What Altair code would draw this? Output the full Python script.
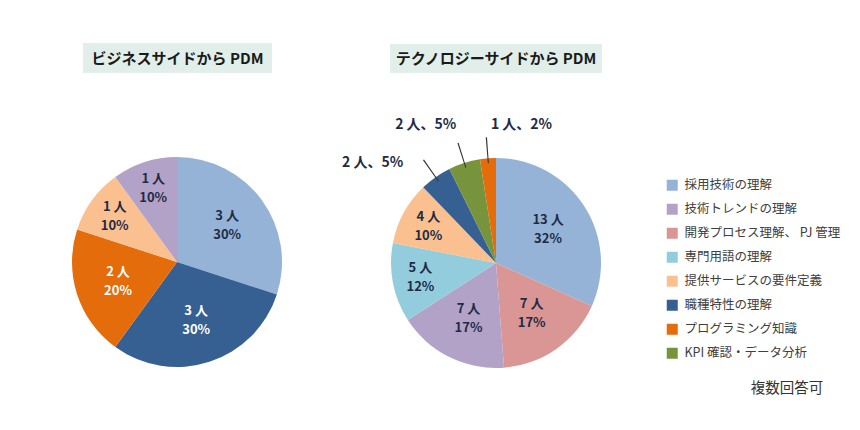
import altair as alt
import pandas as pd

# ---- data ----
categories = [
    "採用技術の理解",
    "技術トレンドの理解",
    "開発プロセス理解、 PJ 管理",
    "専門用語の理解",
    "提供サービスの要件定義",
    "職種特性の理解",
    "プログラミング知識",
    "KPI 確認・データ分析",
]
colors = ["#95b3d7", "#b3a2c7", "#d99694", "#93cddd", "#fac090", "#376092", "#e46c0a", "#77933c"]

left_order = ["採用技術の理解", "職種特性の理解", "プログラミング知識", "提供サービスの要件定義", "技術トレンドの理解"]
left_counts = [3, 3, 2, 1, 1]

right_order = [
    "採用技術の理解",
    "開発プロセス理解、 PJ 管理",
    "技術トレンドの理解",
    "専門用語の理解",
    "提供サービスの要件定義",
    "職種特性の理解",
    "KPI 確認・データ分析",
    "プログラミング知識",
]
right_counts = [13, 7, 7, 5, 4, 2, 2, 1]

titles = ["ビジネスサイドから PDM", "テクノロジーサイドから PDM"]
note = "複数回答可"
dark_slices = ["職種特性の理解", "プログラミング知識"]

FONT = "Noto Sans CJK JP"


def frame(order, counts):
    return pd.DataFrame({"cat": order, "n": counts, "ord": list(range(len(order)))})


color_enc = alt.Color(
    "cat:N",
    scale=alt.Scale(domain=categories, range=colors),
    legend=alt.Legend(title=None),
)
label_color = alt.condition(
    alt.FieldOneOfPredicate(field="cat", oneOf=dark_slices),
    alt.value("white"),
    alt.value("#1e2b45"),
)


def pie(df, cx, cy, outside=None):
    base = (
        alt.Chart(df)
        .transform_joinaggregate(total="sum(n)")
        .transform_window(cum="sum(n)", sort=[alt.SortField("ord")], frame=[None, 0])
        .transform_calculate(
            a0="2*PI*(datum.cum-datum.n)/datum.total",
            a1="2*PI*datum.cum/datum.total",
            mid="2*PI*(datum.cum-datum.n/2)/datum.total",
            pct="round(100*datum.n/datum.total)",
        )
        .transform_calculate(
            line1="datum.n + ' 人'",
            line2="datum.pct + '%'",
            outer="datum.n + ' 人、' + datum.pct + '%'",
        )
    )
    pos = dict(x=alt.value(cx), y=alt.value(cy))
    arcs = base.mark_arc(radius=105).encode(
        theta=alt.Theta("a0:Q", scale=None),
        theta2=alt.Theta2("a1:Q"),
        color=color_enc,
        **pos,
    )
    txt = dict(font=FONT, fontSize=13, fontWeight="bold", align="center", baseline="middle")
    layers = [arcs]
    for flt, rad in (("datum.pct >= 15", 62), ("datum.pct >= 8 && datum.pct < 15", 77)):
        for field, off in (("line1", -9.5), ("line2", 9.5)):
            layers.append(
                base.transform_filter(flt)
                .mark_text(radius=rad, dy=off, **txt)
                .encode(theta=alt.Theta("mid:Q", scale=None), text=f"{field}:N",
                        color=label_color, **pos)
            )
    if outside:
        leaders = (
            base.transform_filter("datum.pct < 8")
            .transform_calculate(l0="datum.mid-0.005", l1="datum.mid+0.005")
            .mark_arc(radius=126, radius2=100, color="#333333")
            .encode(theta=alt.Theta("l0:Q", scale=None), theta2=alt.Theta2("l1:Q"), **pos)
        )
        layers.append(leaders)
        for cat, (ddx, ddy) in outside.items():
            layers.append(
                base.transform_filter(alt.FieldEqualPredicate(field="cat", equal=cat))
                .mark_text(radius=150, dx=ddx, dy=ddy, font=FONT, fontSize=14,
                           fontWeight="bold", color="#1e2b45", align="center", baseline="middle")
                .encode(theta=alt.Theta("mid:Q", scale=None), text="outer:N", **pos)
            )
    return layers


left = pie(frame(left_order, left_counts), 169, 254)
right = pie(
    frame(right_order, right_counts), 488, 255,
    outside={
        "職種特性の理解": (-37, 23),
        "KPI 確認・データ分析": (-25, 5),
        "プログラミング知識": (37, 12),
    },
)

tdf = pd.DataFrame({"t": titles})
title_layers = [
    alt.Chart(tdf).mark_rect(color="#e2eeea").encode(
        x=alt.value(75), x2=alt.value(264), y=alt.value(35), y2=alt.value(65)),
    alt.Chart(tdf).mark_rect(color="#e2eeea").encode(
        x=alt.value(382), x2=alt.value(594), y=alt.value(36), y2=alt.value(65)),
    alt.Chart(tdf).transform_filter(alt.FieldEqualPredicate(field="t", equal=titles[0]))
    .mark_text(font=FONT, fontSize=15, fontWeight="bold", color="#1a1a1a", align="center", baseline="middle")
    .encode(text="t:N", x=alt.value(169.5), y=alt.value(50.5)),
    alt.Chart(tdf).transform_filter(alt.FieldEqualPredicate(field="t", equal=titles[1]))
    .mark_text(font=FONT, fontSize=15, fontWeight="bold", color="#1a1a1a", align="center", baseline="middle")
    .encode(text="t:N", x=alt.value(488), y=alt.value(51)),
    alt.Chart(pd.DataFrame({"t": [note]}))
    .mark_text(font=FONT, fontSize=14.5, color="#333333", align="center", baseline="middle")
    .encode(text="t:N", x=alt.value(779), y=alt.value(381)),
]

chart = (
    alt.layer(*title_layers, *left, *right)
    .properties(width=844, height=414, padding=0, autosize="none", background="white")
    .configure_view(stroke=None)
    .configure_legend(
        orient="none",
        legendX=658,
        legendY=171,
        labelFont=FONT,
        labelFontSize=12.5,
        labelColor="#404040",
        labelLimit=400,
        labelOffset=6,
        symbolType="square",
        symbolSize=121,
        symbolStrokeWidth=0,
        rowPadding=11,
        padding=0,
    )
)

chart.save("out.html", embed_options={"renderer": "svg", "actions": False})
